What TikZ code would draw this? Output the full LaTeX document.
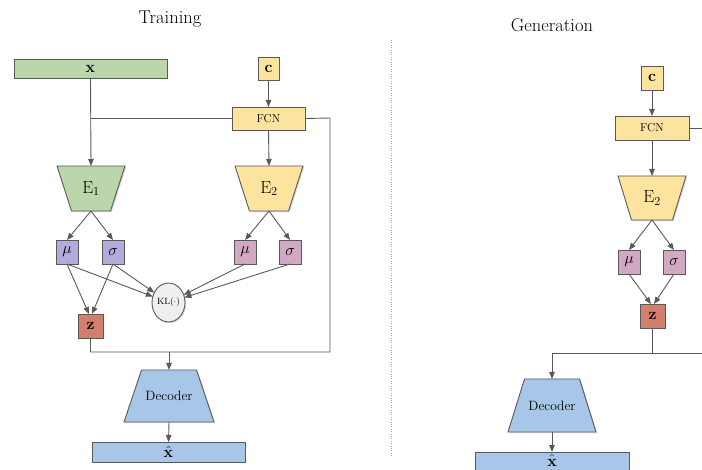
\RequirePackage{fix-cm}
\documentclass[tikz,border=0pt]{standalone}
\usepackage{fontspec}
\setmainfont{Latin Modern Roman}
\usetikzlibrary{shapes.geometric,arrows.meta,shadows,calc,backgrounds}
\definecolor{cgreen}{HTML}{BBD6AB}
\definecolor{cyellow}{HTML}{FCE39E}
\definecolor{cpurple}{HTML}{B3ABDB}
\definecolor{cpink}{HTML}{D3A8C3}
\definecolor{cred}{HTML}{D47E6D}
\definecolor{cblue}{HTML}{A8C6E7}
\definecolor{cline}{HTML}{595959}
\definecolor{ckl}{HTML}{EFEFEF}
\begin{document}
\begin{tikzpicture}[x=1pt,y=-1pt,
  shad/.style={drop shadow={opacity=0.3,shadow xshift=1.2pt,shadow yshift=-1.2pt}},
  box/.style={draw=cline,line width=0.9pt,inner sep=0pt,outer sep=0pt,shad},
  hold/.style={rectangle,inner sep=0pt,outer sep=0pt},
  lbl/.style={font=\fontsize{16}{16}\selectfont},
  title/.style={font=\fontsize{18.5}{20}\selectfont},
  etxt/.style={font=\fontsize{17.5}{18}\selectfont},
  conn/.style={draw=cline,line width=0.9pt},
  arr/.style={conn,-{Triangle[length=7pt,width=5.5pt]}}]
\useasboundingbox (0,0) rectangle (702,470);
\clip (0,0) rectangle (702,470);

% ---------- Training ----------
\node[title] (t1) at (170,19) {Training};
\node[box,fill=cgreen,minimum width=153pt,minimum height=19pt,lbl] (x) at (90.5,68.5) {$\mathbf{x}$};
\node[box,fill=cyellow,minimum width=21pt,minimum height=23pt,lbl] (c) at (268.5,68.5) {$\mathbf{c}$};
\node[box,fill=cyellow,minimum width=73pt,minimum height=23pt,font=\fontsize{11.5}{12}\selectfont] (fcn) at (268.5,118.5) {FCN};
\node[hold,minimum width=68pt,minimum height=45pt,etxt] (e1) at (91,188.5) {E$_1$};
\node[hold,minimum width=68pt,minimum height=45pt,etxt] (e2) at (269,188.5) {E$_2$};
\node[box,fill=cpurple,minimum width=22pt,minimum height=24pt,lbl] (mu1) at (67,252) {$\mu$};
\node[box,fill=cpurple,minimum width=22pt,minimum height=24pt,lbl] (sg1) at (113,252) {$\sigma$};
\node[box,fill=cpink,minimum width=22pt,minimum height=24pt,lbl] (mu2) at (245,252) {$\mu$};
\node[box,fill=cpink,minimum width=22pt,minimum height=24pt,lbl] (sg2) at (290,252) {$\sigma$};
\node[box,ellipse,fill=ckl,minimum width=33pt,minimum height=39pt,font=\fontsize{9}{9}\selectfont] (kl) at (168.5,302.5) {KL$(\cdot)$};
\node[box,fill=cred,minimum width=25pt,minimum height=24pt,lbl] (z) at (90.5,326) {$\mathbf{z}$};
\node[hold,minimum width=90pt,minimum height=52pt,font=\fontsize{13.5}{14}\selectfont] (dec) at (169,396) {Decoder};
\node[box,fill=cblue,minimum width=153pt,minimum height=20pt,lbl] (xh) at (168.5,452) {$\hat{\mathbf{x}}$};

\begin{pgfonlayer}{background}
\draw[box,fill=cgreen] (e1.north west) -- (e1.north east) -- ([xshift=-14.5pt]e1.south east) -- ([xshift=14.5pt]e1.south west) -- cycle;
\draw[box,fill=cyellow] (e2.north west) -- (e2.north east) -- ([xshift=-14.5pt]e2.south east) -- ([xshift=14.5pt]e2.south west) -- cycle;
\draw[box,fill=cblue] (dec.south west) -- (dec.south east) -- ([xshift=-17.5pt]dec.north east) -- ([xshift=17.5pt]dec.north west) -- cycle;
\end{pgfonlayer}

\coordinate (r1) at (330,118);
\coordinate (r2) at (330,352);
\draw[arr] (x.south) -- (e1.north);
\draw[conn] (fcn.west) -- (x.south |- fcn.west);
\draw[arr] (c.south) -- (fcn.north);
\draw[arr] (fcn.south) -- (e2.north);
\draw[arr] (e1.south) -- (mu1.north);
\draw[arr] (e1.south) -- (sg1.north);
\draw[arr] (e2.south) -- (mu2.north);
\draw[arr] (e2.south) -- (sg2.north);
\draw[arr] (mu1.south) -- ([xshift=-1.5pt]z.north);
\draw[arr] (sg1.south) -- ([xshift=1.5pt]z.north);
\draw[arr] (mu1.south) -- (kl);
\draw[arr] (sg1.south) -- (kl);
\draw[arr] (mu2.south) -- (kl);
\draw[arr] (sg2.south) -- (kl);
\draw[conn] (fcn.east) -- (r1) -- (r2) -- (z.south |- r2) -- (z.south);
\draw[arr] (dec.north |- r2) -- (dec.north);
\draw[arr] (dec.south) -- (xh.north);

% ---------- separator ----------
\coordinate (s1) at (391,40);
\coordinate (s2) at (391,456);
\draw[draw=gray!70,line width=0.7pt,dash pattern=on 0.8pt off 1.6pt] (s1) -- (s2);

% ---------- Generation ----------
\node[title] (t2) at (552,25) {Generation};
\node[box,fill=cyellow,minimum width=22pt,minimum height=24pt,lbl] (c2) at (652,78) {$\mathbf{c}$};
\node[box,fill=cyellow,minimum width=74pt,minimum height=24pt,font=\fontsize{11.5}{12}\selectfont] (fcn2) at (652,128) {FCN};
\node[hold,minimum width=68pt,minimum height=44pt,etxt] (e2g) at (652,198) {E$_2$};
\node[box,fill=cpink,minimum width=22pt,minimum height=24pt,lbl] (mu3) at (629,262) {$\mu$};
\node[box,fill=cpink,minimum width=22pt,minimum height=24pt,lbl] (sg3) at (674,262) {$\sigma$};
\node[box,fill=cred,minimum width=25pt,minimum height=24pt,lbl] (z2) at (652.5,316) {$\mathbf{z}$};
\node[hold,minimum width=88pt,minimum height=53pt,font=\fontsize{13.5}{14}\selectfont] (dec2) at (552,405.5) {Decoder};
\node[box,fill=cblue,minimum width=154pt,minimum height=20pt,lbl,anchor=north] (xh2) at (552,452) {\raisebox{3pt}{$\hat{\mathbf{x}}$}};

\begin{pgfonlayer}{background}
\draw[box,fill=cyellow] (e2g.north west) -- (e2g.north east) -- ([xshift=-13.5pt]e2g.south east) -- ([xshift=13.5pt]e2g.south west) -- cycle;
\draw[box,fill=cblue] (dec2.south west) -- (dec2.south east) -- ([xshift=-16.5pt]dec2.north east) -- ([xshift=16.5pt]dec2.north west) -- cycle;
\end{pgfonlayer}

\coordinate (g1) at (702,128);
\coordinate (g2) at (702,353);
\draw[arr] (c2.south) -- (fcn2.north);
\draw[conn] (fcn2.east) -- (g1);
\draw[arr] (fcn2.south) -- (e2g.north);
\draw[arr] (e2g.south) -- (mu3.north);
\draw[arr] (e2g.south) -- (sg3.north);
\draw[arr] (mu3.south) -- ([xshift=-1.5pt]z2.north);
\draw[arr] (sg3.south) -- ([xshift=1.5pt]z2.north);
\draw[conn] (z2.south) -- (z2.south |- g2);
\draw[conn] (dec2.north |- g2) -- (g2);
\draw[arr] (dec2.north |- g2) -- (dec2.north);
\draw[arr] (dec2.south) -- (xh2.north);
\end{tikzpicture}
\end{document}
